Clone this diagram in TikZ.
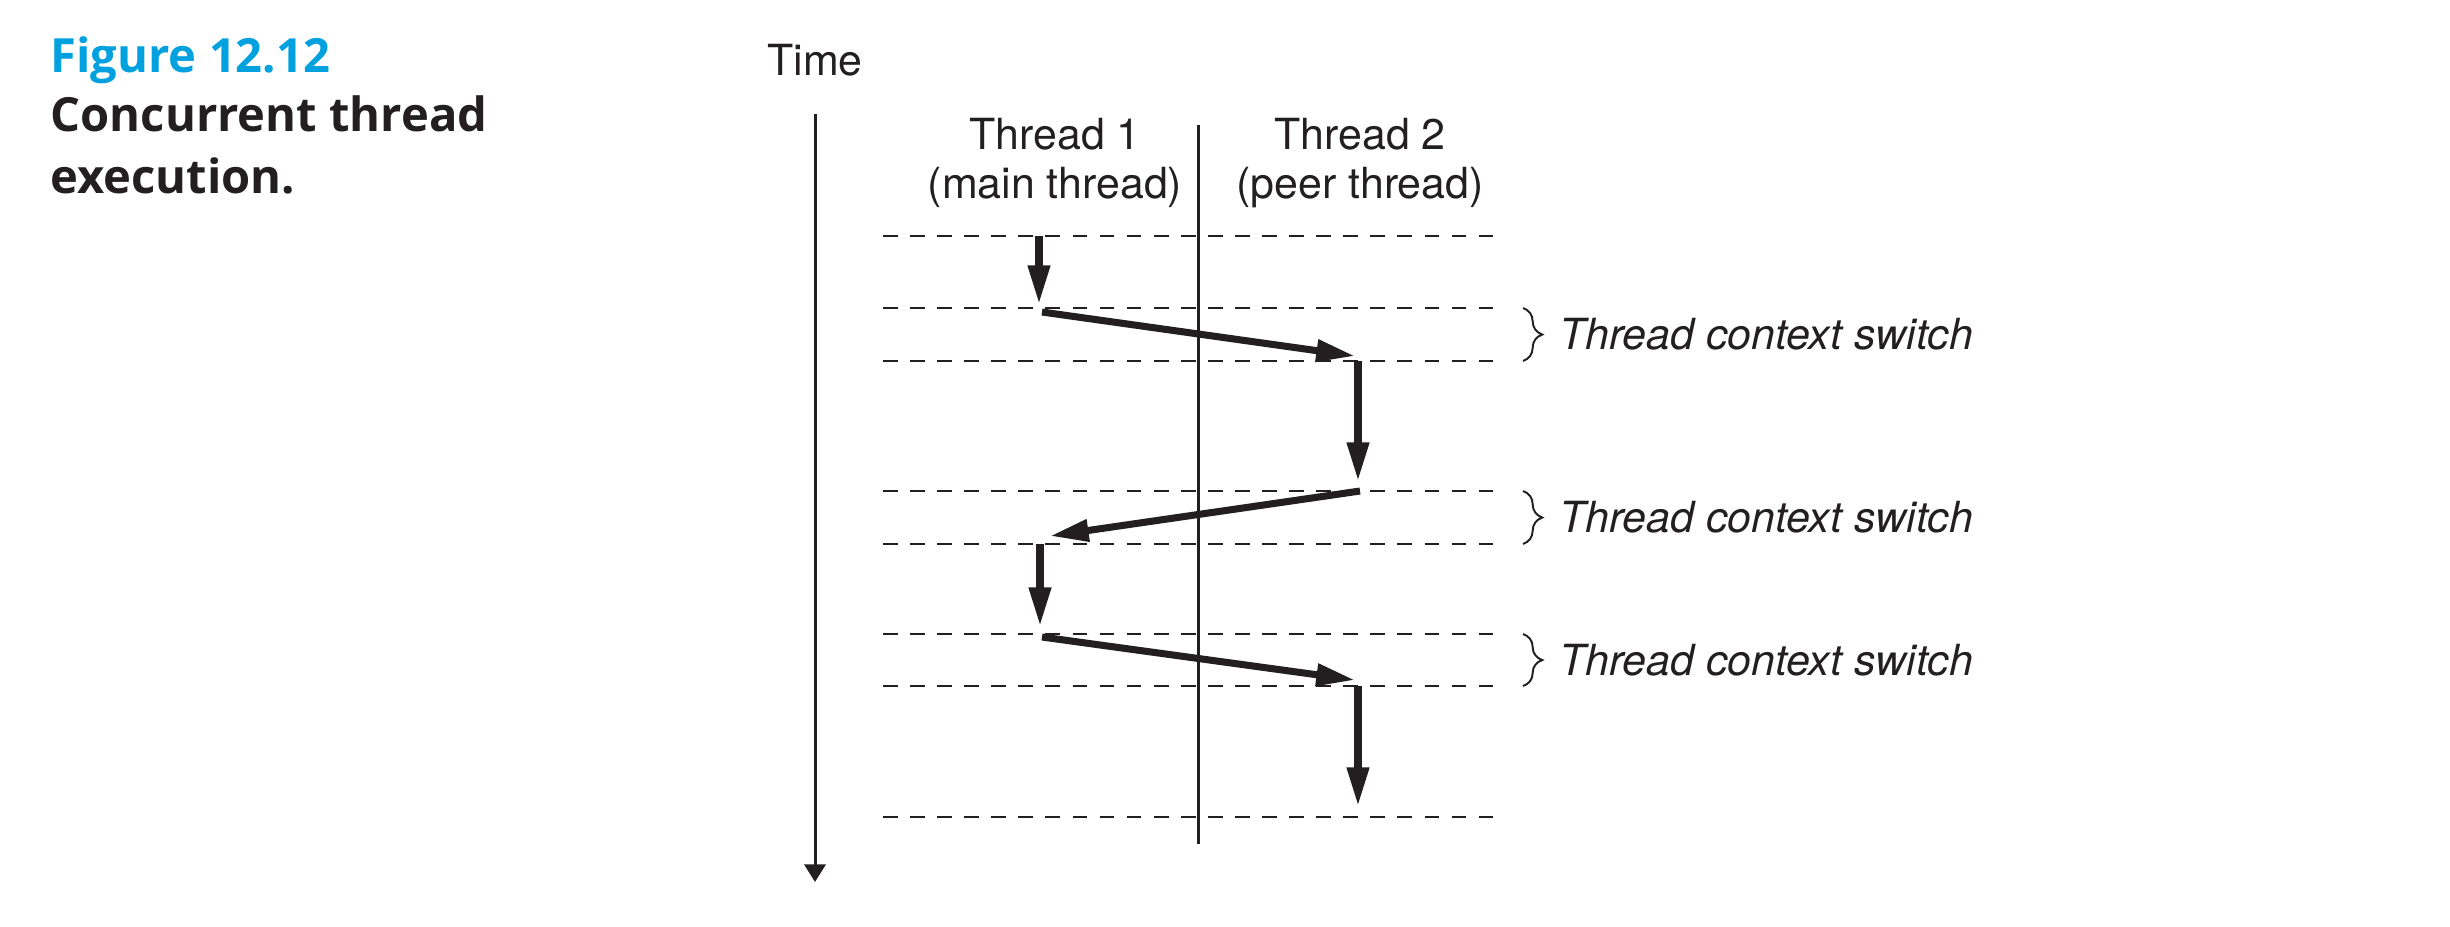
\documentclass[tikz,border=0pt]{standalone}
\usepackage{fontspec}
\setmainfont{TeX Gyre Heros}
\setsansfont{TeX Gyre Heros}
\newfontfamily\capfont{Open Sans}
\usetikzlibrary{positioning,arrows.meta,decorations.pathreplacing}
\definecolor{ink}{RGB}{35,31,32}
\definecolor{figblue}{RGB}{0,161,222}

\begin{document}
\begin{tikzpicture}[
  x=0.01cm, y=-0.01cm,
  font=\sffamily\fontsize{12.2}{14}\selectfont,
  every node/.style={inner sep=0pt, text=ink},
  axis/.style={draw=ink, line width=0.85pt},
  timeline/.style={axis, -{Triangle[length=5pt,width=6pt]}},
  slot/.style={draw=ink, line width=0.8pt, dash pattern=on 4.2pt off 3.5pt},
  run/.style={draw=ink, line width=2pt, -{Triangle[length=11pt,width=6pt]}},
  brc/.style={draw=ink, line width=0.55pt, decorate,
    decoration={brace, amplitude=5.5pt}},
  hdr/.style={align=center},
  cswitch/.style={font=\sffamily\itshape\fontsize{12.2}{14}\selectfont},
  captxt/.style={anchor=base west,
    font=\capfont\bfseries\fontsize{13.4}{17.5}\selectfont},
]

\useasboundingbox (0,0) rectangle (2450,926);

%---------- caption ----------
\node[captxt, text=figblue] (fig) at (50,72) {Figure 12.12};
\node[captxt] (cap1) at (50,131) {Concurrent thread};
\node[captxt] (cap2) at (50,193) {execution.};

%---------- time axis ----------
\node[anchor=base] (time) at (815,75) {Time};
\coordinate (t0) at (815,114);
\coordinate (t1) at (815,882);
\draw[timeline] (t0) -- (t1);

%---------- thread columns ----------
\node[hdr] (th1) at (1055,163) {Thread 1\\(main thread)};
\node[hdr] (th2) at (1360,163) {Thread 2\\(peer thread)};
\coordinate (sepA) at (1198,125);
\coordinate (sepB) at (1198,844);
\draw[axis] (sepA) -- (sepB);

%---------- time slots (dashed) ----------
\foreach \y [count=\i] in {236,308,361,491,544,634,686,817}{
  \coordinate (L\i) at (883,\y);
  \coordinate (R\i) at (1500,\y);
  \draw[slot] (L\i) -- (R\i);
}

%---------- execution flow ----------
\coordinate (p1) at (1039,236);
\coordinate (p2) at (1039,304);
\coordinate (p3) at (1042,312);
\coordinate (p4) at (1355,356);
\coordinate (p5) at (1358,361);
\coordinate (p6) at (1358,481);
\coordinate (p7) at (1360,491);
\coordinate (p8) at (1050,536);
\coordinate (p9) at (1040,544);
\coordinate (p10) at (1040,626);
\coordinate (p11) at (1042,637);
\coordinate (p12) at (1355,680);
\coordinate (p13) at (1358,686);
\coordinate (p14) at (1358,806);
\foreach \s/\e in {p1/p2,p3/p4,p5/p6,p7/p8,p9/p10,p11/p12,p13/p14}{
  \draw[run] (\s) -- (\e);
}

%---------- context switches ----------
\foreach \u/\v [count=\n] in {2/3,4/5,6/7}{
  \path (R\u) ++(23,0) coordinate (bt\n);
  \path (R\v) ++(23,0) coordinate (bb\n);
  \draw[brc] (bt\n) -- (bb\n)
    node[cswitch, midway, right=0.35cm] (sw\n) {Thread context switch};
}

\end{tikzpicture}
\end{document}
